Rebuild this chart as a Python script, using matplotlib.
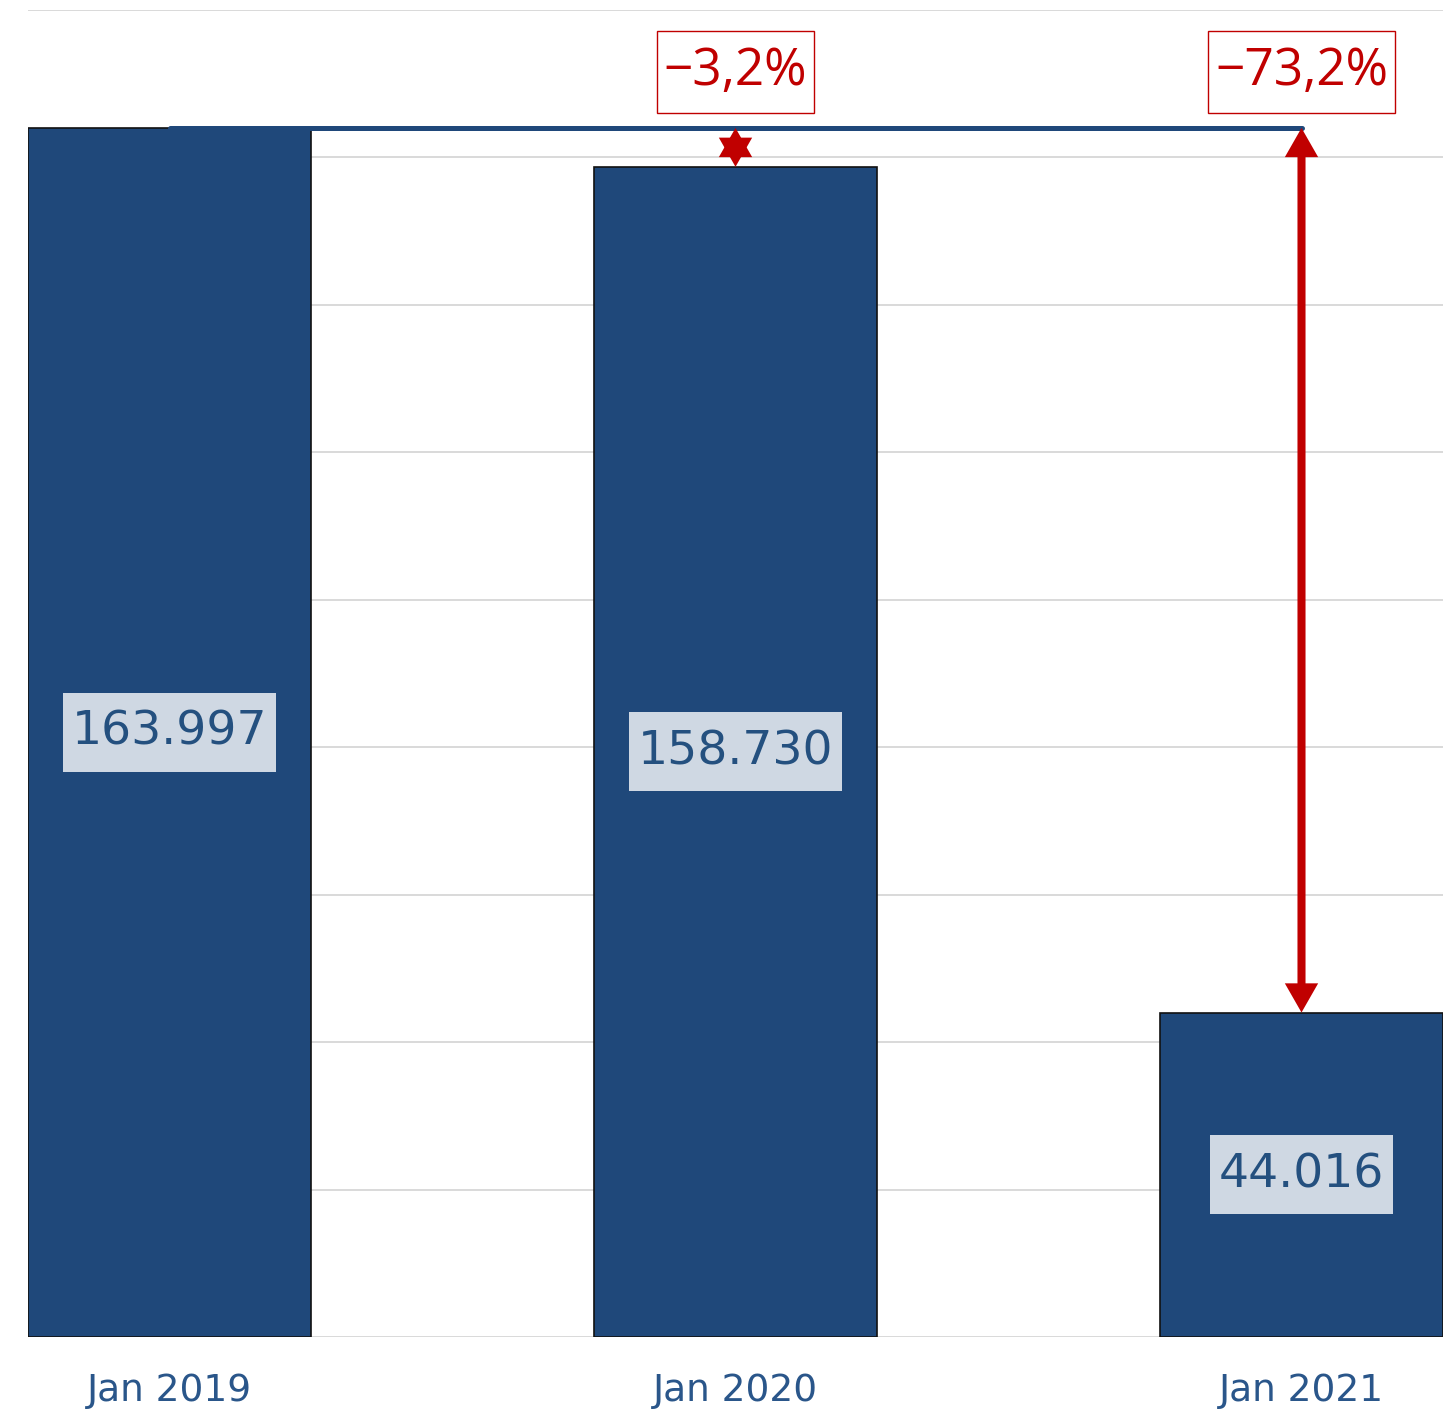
import matplotlib
matplotlib.use("Agg")
import matplotlib.pyplot as plt
from matplotlib.patches import Rectangle
import numpy as np

categories = ["Jan 2019", "Jan 2020", "Jan 2021"]
values = [163997, 158730, 44016]
y_ticks = list(range(0, 180001, 20000))

BAR = "#1f487a"
RED = "#c00000"
TXT = "#24507f"
TICK = "#2a568a"

plt.rcParams['font.family'] = ['DejaVu Sans']

W, H = 1456, 1414
fig = plt.figure(figsize=(W / 100, H / 100), dpi=100)
ax = fig.add_axes([28 / W, (H - 1337) / H, (1443 - 28) / W, (1337 - 10) / H])

x = np.arange(len(categories))
ax.bar(x, values, width=0.5, color=BAR, edgecolor="#111111", linewidth=1.2, zorder=2)
ax.set_xlim(-0.25, 2.25)
ax.set_ylim(0, 180000)
ax.set_yticks(y_ticks)
ax.yaxis.grid(True, color="#d9d9d9", linewidth=1.4, zorder=0)
ax.set_axisbelow(True)
ax.tick_params(axis="y", left=False, labelleft=False)
ax.set_xticks(x)
ax.set_xticklabels(categories, fontsize=27, color=TICK)
ax.tick_params(axis="x", length=0, pad=26)
for s in ax.spines.values():
    s.set_visible(False)

boxed = []  # (text, pad_x_px, height_px, facecolor, edgecolor, lw)

# value labels
for xi, v in zip(x, values):
    t = ax.text(xi, v / 2, f"{v:,}".replace(",", "."), ha="center", va="center",
                fontsize=34, color=TXT, zorder=7)
    boxed.append((t, 9, 79, "#cfd8e3", "none", 0))

# reference line from first bar
base = values[0]
ax.plot([x[0], x[-1]], [base, base], color=BAR, linewidth=3.6,
        solid_capstyle="round", zorder=4)

# change arrows and labels
head = "-|>,head_length=1.05,head_width=0.6"
for xi, v in zip(x[1:], values[1:]):
    pct = (v - base) / base * 100
    label = "\u2212" + f"{abs(pct):.1f}".replace(".", ",") + "%"
    # shaft (only visible when the gap is longer than the two heads)
    if (base - v) > 0.1 * base:
        ax.annotate("", xy=(xi, v), xytext=(xi, base),
                    arrowprops=dict(arrowstyle="-", color=RED, linewidth=5.8,
                                    shrinkA=14, shrinkB=14, capstyle="butt"),
                    zorder=6)
    # heads
    for a, b in ((v, base), (base, v)):
        ax.annotate("", xy=(xi, a), xytext=(xi, b),
                    arrowprops=dict(arrowstyle=head, mutation_scale=20,
                                    color=RED, linewidth=0,
                                    shrinkA=0, shrinkB=0),
                    zorder=6)
    t = ax.text(xi, 171600, label, ha="center", va="center", fontsize=37,
                color=RED, zorder=7, family=["Open Sans", "DejaVu Sans"])
    boxed.append((t, 7, 82, "white", RED, 1.0))

fig.canvas.draw()
renderer = fig.canvas.get_renderer()
inv = ax.transAxes.inverted()
for t, padx, hpx, fc, ec, lw in boxed:
    bb = t.get_window_extent(renderer)
    cx, cy = (bb.x0 + bb.x1) / 2, (bb.y0 + bb.y1) / 2
    wpx = bb.width + 2 * padx
    (x0, y0) = inv.transform((cx - wpx / 2, cy - hpx / 2))
    (x1, y1) = inv.transform((cx + wpx / 2, cy + hpx / 2))
    ax.add_patch(Rectangle((x0, y0), x1 - x0, y1 - y0, transform=ax.transAxes,
                           facecolor=fc, edgecolor=ec, linewidth=lw, zorder=5,
                           clip_on=False))

fig.savefig("out.png", dpi=100)
